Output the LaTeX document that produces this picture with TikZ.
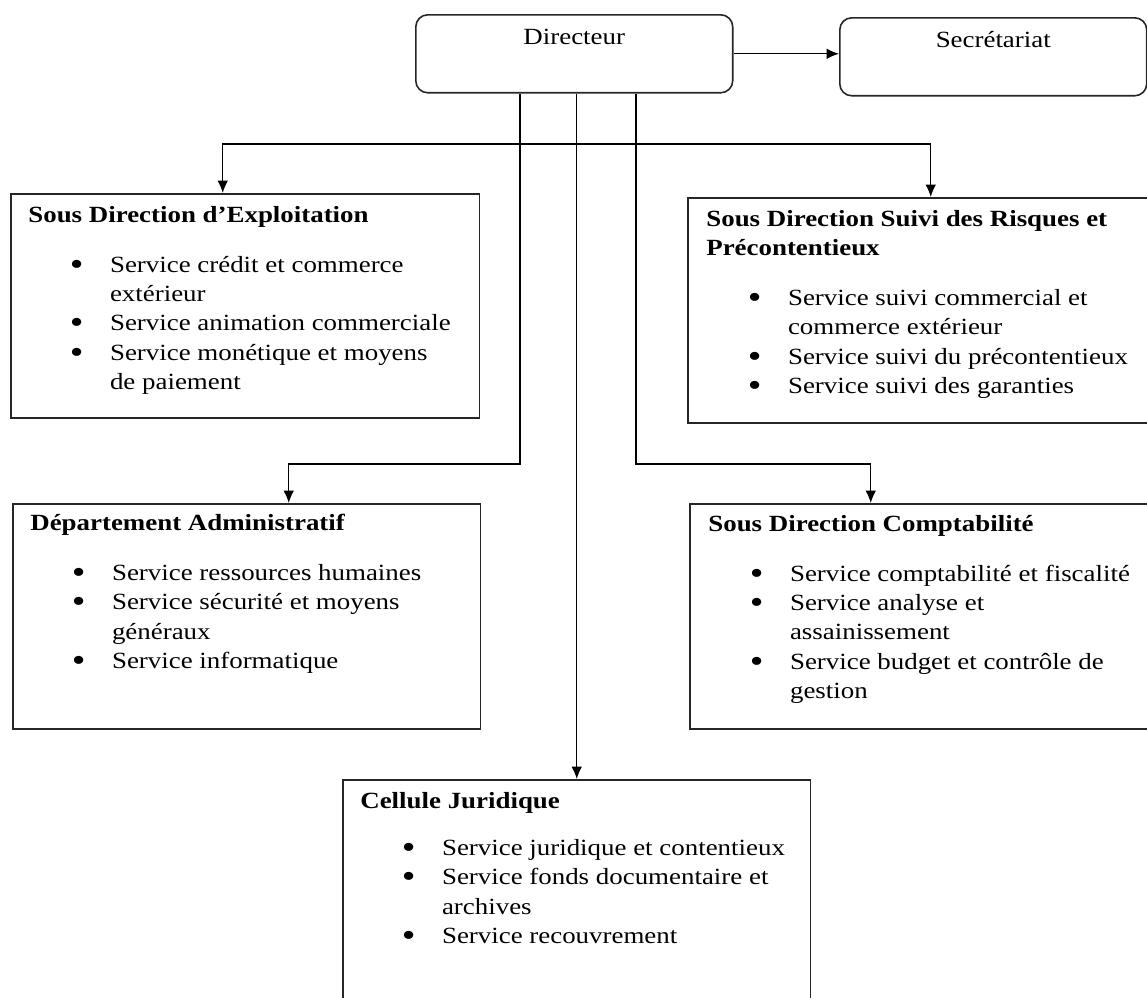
\documentclass[tikz,border=0pt]{standalone}
\usepackage{fontspec}
\setmainfont{Liberation Serif}[FakeStretch=1.16]
\usetikzlibrary{positioning, arrows.meta}
\newcommand{\corps}{\fontsize{13.2}{16.7}\selectfont}
\newcommand{\puce}{\hspace*{23.6pt}\makebox[22.9pt][l]{\raisebox{-1.7pt}[0pt][0pt]{\scalebox{1.45}{\textbullet}}}}
\newcommand{\suite}{\hspace*{46.5pt}}
\tikzstyle{cadre} = [rectangle, draw=black!85, line width=0.9pt, anchor=north west, inner sep=0pt]
\tikzstyle{chef} = [cadre, rounded corners=0.24cm, minimum height=1.56cm, text height=17pt, text depth=27.2pt, font=\corps]
\tikzstyle{texte} = [inner sep=0pt, align=left, font=\corps]
\tikzstyle{fleche} = [line width=0.75pt, -{Latex[length=7pt,width=6pt]}]

\begin{document}
\begin{tikzpicture}[x=0.02cm, y=-0.02cm]
      \useasboundingbox (0,0) rectangle (1147,998);

      \node (dir) [chef, minimum width=6.34cm] at (415,14) {Directeur};
      \node (sec) [chef, minimum width=6.14cm] at (839,17) {Secrétariat};

      \node (expl) [cadre, minimum width=9.38cm, minimum height=4.48cm] at (10,193) {};
      \node (risq) [cadre, minimum width=9.46cm, minimum height=4.5cm] at (687,197) {};
      \node (admin) [cadre, minimum width=9.36cm, minimum height=4.5cm] at (12,503) {};
      \node (compta) [cadre, minimum width=9.42cm, minimum height=4.5cm] at (689,503) {};
      \node (jurid) [cadre, minimum width=9.36cm, minimum height=5cm] at (342,779) {};

      \node (expl-txt) [texte, below right=0.26cm and 0.36cm of expl.north west] {%
        \textbf{Sous Direction d’Exploitation}\\[11.6pt]
        \puce Service crédit et commerce\\
        \suite extérieur\\
        \puce Service animation commerciale\\
        \puce Service monétique et moyens\\
        \suite de paiement};
      \node (risq-txt) [texte, below right=0.26cm and 0.38cm of risq.north west] {%
        \textbf{Sous Direction Suivi des Risques et}\\
        \textbf{Précontentieux}\\[11.6pt]
        \puce Service suivi commercial et\\
        \suite commerce extérieur\\
        \puce Service suivi du précontentieux\\
        \puce Service suivi des garanties};
      \node (admin-txt) [texte, below right=0.22cm and 0.36cm of admin.north west] {%
        \textbf{Département Administratif}\\[11.6pt]
        \puce Service ressources humaines\\
        \puce Service sécurité et moyens\\
        \suite généraux\\
        \puce Service informatique};
      \node (compta-txt) [texte, below right=0.24cm and 0.38cm of compta.north west] {%
        \textbf{Sous Direction Comptabilité}\\[11.6pt]
        \puce Service comptabilité et fiscalité\\
        \puce Service analyse et\\
        \suite assainissement\\
        \puce Service budget et contrôle de\\
        \suite gestion};
      \node (jurid-txt) [texte, below right=0.26cm and 0.36cm of jurid.north west] {%
        \textbf{Cellule Juridique}\\[10pt]
        \puce Service juridique et contentieux\\
        \puce Service fonds documentaire et\\
        \suite archives\\
        \puce Service recouvrement};

      \coordinate (expl-in) at ([xshift=-0.45cm]expl.north);
      \coordinate (risq-in) at ([xshift=0.13cm]risq.north);
      \coordinate (admin-in) at ([xshift=0.84cm]admin.north);
      \coordinate (compta-in) at ([xshift=-1.09cm]compta.north);
      \coordinate (barre) at (0,144);
      \coordinate (coude) at (0,464);
      \coordinate (tige-g) at (520,0);
      \coordinate (tige-d) at (636,0);

      \draw [fleche] (dir.east) -- (dir.east -| sec.west);
      \draw [fleche] (barre -| risq-in) -- (risq-in);
      \draw [fleche] (barre -| risq-in) -- (barre -| expl-in) -- (expl-in);
      \draw [fleche] (dir.south -| tige-g) |- (coude -| admin-in) -- (admin-in);
      \draw [fleche] (dir.south -| tige-d) |- (coude -| compta-in) -- (compta-in);
      \draw [fleche] (dir.south -| jurid.north) -- (jurid.north);
    \end{tikzpicture}
\end{document}
